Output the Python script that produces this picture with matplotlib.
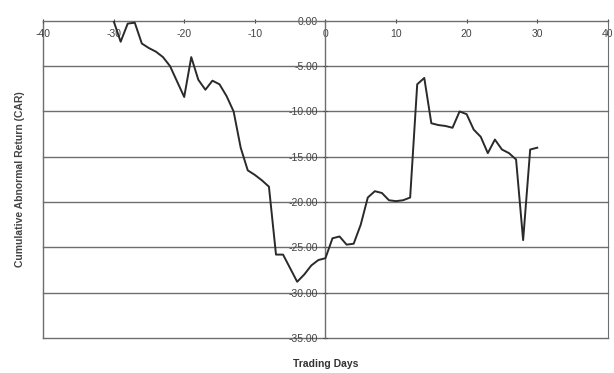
import numpy as np
import matplotlib.pyplot as plt

# event window, days relative to the announcement
days = list(range(-30, 31))
car = [0.0, -2.3, -0.3, -0.2, -2.5, -3.0, -3.4, -4.0, -5.0, -6.7,
       -8.4, -4.0, -6.5, -7.6, -6.6, -7.0, -8.3, -10.0, -14.0, -16.5,
       -17.0, -17.6, -18.3, -25.8, -25.8, -27.3, -28.8, -28.0, -27.0, -26.4,
       -26.2, -24.0, -23.8, -24.7, -24.6, -22.5, -19.5, -18.8, -19.0, -19.8,
       -19.9, -19.8, -19.5, -7.0, -6.3, -11.3, -11.5, -11.6, -11.8, -10.0,
       -10.3, -12.0, -12.8, -14.6, -13.1, -14.2, -14.6, -15.3, -24.2, -14.2,
       -14.0]

x_ticks = [-40, -30, -20, -10, 0, 10, 20, 30, 40]
y_ticks = [0, -5, -10, -15, -20, -25, -30, -35]

plt.rcParams['font.family'] = ['Liberation Sans', 'DejaVu Sans']

fig = plt.figure(figsize=(6.14, 3.73), dpi=100)
ax = fig.add_axes([0.070, 0.094, 0.920, 0.850])

grid_col = '#6e6e6e'
for y in y_ticks[1:]:
    ax.axhline(y, color=grid_col, lw=1.0, zorder=1, clip_on=False)
ax.axvline(-40, color=grid_col, lw=1.0, zorder=1, clip_on=False)

ax.plot(days, car, color='#2a2a2a', lw=1.4, zorder=3)

ax.set_xlim(-40, 40)
ax.set_ylim(-35, 0)

# axes cross at the origin, as in the spreadsheet chart
ax.spines['left'].set_position(('data', 0))
ax.spines['bottom'].set_position(('data', 0))
ax.spines['top'].set_visible(False)
ax.spines['right'].set_color(grid_col)
for s in ['left', 'bottom']:
    ax.spines[s].set_color(grid_col)
    ax.spines[s].set_linewidth(1.0)

ax.set_xticks(x_ticks)
ax.set_xticklabels([str(t) for t in x_ticks])
ax.set_yticks(y_ticks)
ax.set_yticklabels(['%.2f' % t for t in y_ticks])
ax.tick_params(axis='both', labelsize=7.5, colors='#444444', length=3, width=0.8,
               direction='inout', pad=4)

fig.text(0.53, 0.025, 'Trading Days', ha='center', va='center',
         fontsize=7.5, fontweight='bold', color='#333333')
fig.text(0.032, 0.52, 'Cumulative Abnormal Return (CAR)', ha='center', va='center',
         rotation=90, fontsize=7.5, fontweight='bold', color='#444444')

fig.savefig('out.png', dpi=100)
